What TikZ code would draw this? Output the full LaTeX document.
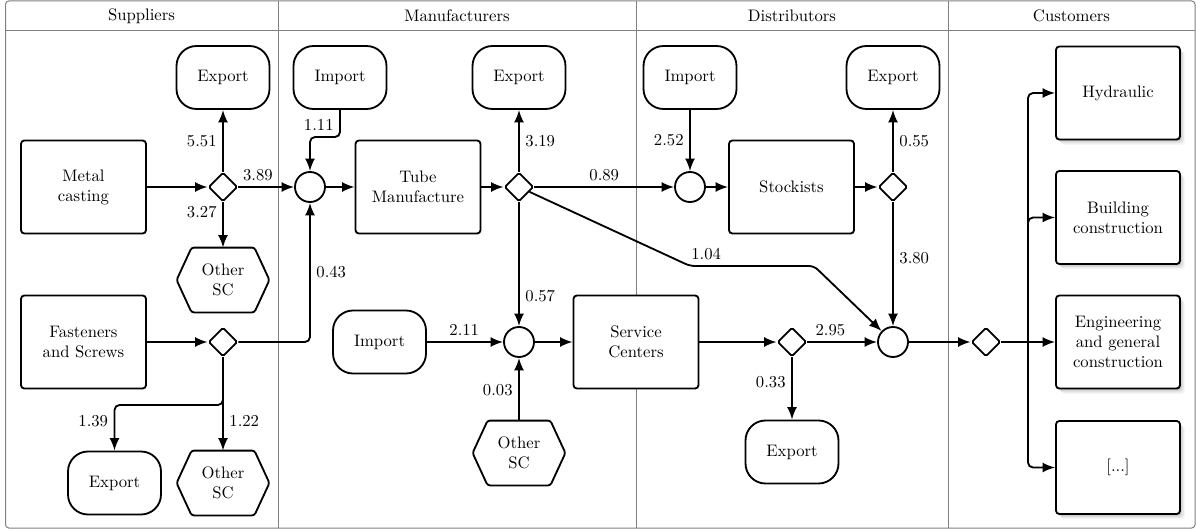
\documentclass[tikz,border=0pt]{standalone}
\usetikzlibrary{shapes.geometric,arrows.meta,shadows}
\begin{document}
\begin{tikzpicture}[x=0.6pt,y=-0.6pt,line width=1.1pt,
  box/.style={draw,rounded corners=2pt,minimum width=75pt,minimum height=55.8pt,align=center,inner sep=2pt,fill=white},
  cust/.style={box,minimum width=74.4pt,
    drop shadow={shadow xshift=3pt,shadow yshift=-3.2pt,opacity=.07},
    drop shadow={shadow xshift=2.3pt,shadow yshift=-2.5pt,opacity=.1},
    drop shadow={shadow xshift=1.6pt,shadow yshift=-1.8pt,opacity=.13},
    drop shadow={shadow xshift=.9pt,shadow yshift=-1.1pt,opacity=.18}},
  term/.style={draw,rounded corners=12pt,minimum width=55.8pt,minimum height=37.8pt,align=center,inner sep=2pt},
  hexa/.style={minimum width=54.6pt,minimum height=37.8pt,align=center,inner sep=1pt},
  gate/.style={draw,diamond,minimum size=17.4pt,inner sep=0pt,rounded corners=1pt},
  merge/.style={draw,circle,minimum size=18pt,inner sep=0pt},
  flow/.style={-{Latex[length=7.5pt,width=6pt]},rounded corners=3pt},
  lane/.style={gray,line width=0.6pt},
  lbl/.style={inner sep=3.3pt}]
\useasboundingbox (0,0) rectangle (1196,532);

% swimlane frame
\draw[lane,rounded corners=2pt] (5.5,1) rectangle (1195,528);
\draw[lane] (5.5,31) -- (1195,31);
\foreach \xd in {278,636,948} \draw[lane] (\xd,1) -- (\xd,528);
\node (hS) at (141.5,16) {Suppliers};
\node (hM) at (457,16) {Manufacturers};
\node (hD) at (792,16) {Distributors};
\node (hC) at (1071.5,16) {Customers};

% suppliers
\node[box] (metal) at (83.5,187) {Metal\\casting};
\node[box] (fast) at (83.5,342) {Fasteners\\and Screws};
\node[gate] (d1) at (223,187) {};
\node[gate] (d2) at (223,342) {};
\node[term] (expS1) at (223,77.5) {Export};
\node[hexa] (oscS1) at (223,280) {Other\\SC};
\node[term] (expS2) at (114.5,483) {Export};
\node[hexa] (oscS2) at (223,483) {Other\\SC};

% manufacturers
\node[term] (impM1) at (340,77.5) {Import};
\node[merge] (c1) at (310,187) {};
\node[box] (tube) at (418,187) {Tube\\Manufacture};
\node[gate] (d3) at (519,187) {};
\node[term] (expM) at (519,77.5) {Export};
\node[term] (impM2) at (379.5,342) {Import};
\node[merge] (c3) at (519,342) {};
\node[hexa] (oscM) at (519,453) {Other\\SC};
\node[box] (serv) at (636,342) {Service\\Centers};

% distributors
\node[term] (impD) at (690,77.5) {Import};
\node[merge] (c2) at (690,187) {};
\node[box] (stock) at (791.5,187) {Stockists};
\node[gate] (d4) at (893,187) {};
\node[term] (expD1) at (893,77.5) {Export};
\node[merge] (c4) at (893,342) {};
\node[gate] (d5) at (792,342) {};
\node[term] (expD2) at (792,452) {Export};

% customers
\node[gate] (d6) at (986,342) {};
\node[cust] (hyd) at (1118,93) {Hydraulic};
\node[cust] (bld) at (1118,217.5) {Building\\construction};
\node[cust] (eng) at (1118,342) {Engineering\\and general\\construction};
\node[cust] (etc) at (1118,467.5) {[...]};

% hexagon outlines
\foreach \h in {oscS1,oscS2,oscM}
  \draw[rounded corners=1.5pt] (\h.west) -- ([xshift=9pt]\h.north west) -- ([xshift=-9pt]\h.north east)
    -- (\h.east) -- ([xshift=-9pt]\h.south east) -- ([xshift=9pt]\h.south west) -- cycle;

% bend points
\coordinate (k1) at (690,266);
\coordinate (k2) at (814,266);
\coordinate (k3) at (340,137);
\coordinate (k4) at (223,405);
\coordinate (j) at (1028,342);

% flows: suppliers
\draw[flow] (metal) -- (d1);
\draw[flow] (d1) -- node[lbl,left,pos=.5]{5.51} (expS1);
\draw[flow] (d1) -- node[lbl,left,pos=.22]{3.27} (oscS1);
\draw[flow] (d1) -- node[lbl,above,pos=.35]{3.89} (c1);
\draw[flow] (fast) -- (d2);
\draw[flow] (d2) -| node[lbl,right,pos=.75]{0.43} (c1);
\draw[flow] (d2) -- node[lbl,right,pos=.68]{1.22} (oscS2);
\draw[flow] (d2) -- (k4) -| node[lbl,left,pos=.68]{1.39} (expS2);

% flows: manufacturers
\draw[flow] (impM1) -- node[lbl,left,pos=.55]{1.11} (k3) -| (c1);
\draw[flow] (c1) -- (tube);
\draw[flow] (tube) -- (d3);
\draw[flow] (d3) -- node[lbl,right,pos=.5]{3.19} (expM);
\draw[flow] (d3) -- node[lbl,above,pos=.5]{0.89} (c2);
\draw[flow] (d3) -- node[lbl,right,pos=.76]{0.57} (c3);
\draw[flow] (d3) -- (k1) -- node[lbl,above,pos=.13]{1.04} (k2) -- (c4);
\draw[flow] (impM2) -- node[lbl,above,pos=.49]{2.11} (c3);
\draw[flow] (oscM) -- node[lbl,left,pos=.49]{0.03} (c3);
\draw[flow] (c3) -- (serv);

% flows: distributors
\draw[flow] (impD) -- node[lbl,left,pos=.5]{2.52} (c2);
\draw[flow] (c2) -- (stock);
\draw[flow] (stock) -- (d4);
\draw[flow] (d4) -- node[lbl,right,pos=.5]{0.55} (expD1);
\draw[flow] (d4) -- node[lbl,right,pos=.45]{3.80} (c4);
\draw[flow] (serv) -- (d5);
\draw[flow] (d5) -- node[lbl,above,pos=.33]{2.95} (c4);
\draw[flow] (d5) -- node[lbl,left,pos=.4]{0.33} (expD2);

% flows: customers
\draw[flow] (c4) -- (d6);
\draw (d6) -- (j);
\draw[flow] (j) |- (hyd);
\draw[flow] (j) |- (bld);
\draw[flow] (j) -- (eng);
\draw[flow] (j) |- (etc);
\end{tikzpicture}
\end{document}
